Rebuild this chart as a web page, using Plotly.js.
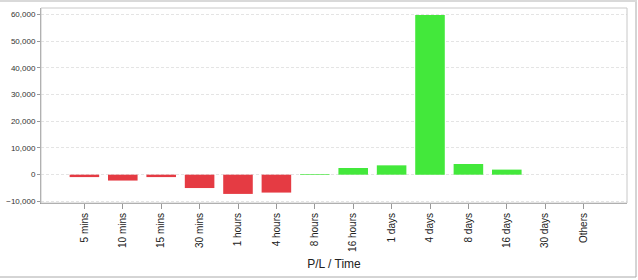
<!DOCTYPE html>
<html><head><meta charset="utf-8">
<script src="https://cdn.plot.ly/plotly-3.0.1.min.js"></script>
<style>html,body{margin:0;padding:0;background:#fff;}#c{width:638px;height:280px;}</style>
</head><body><div id="c"></div>
<script>
var categories = ["5 mins","10 mins","15 mins","30 mins","1 hours","4 hours","8 hours","16 hours","1 days","4 days","8 days","16 days","30 days","Others"];
var plValues = [-900,-2200,-900,-5000,-7200,-6700,250,2500,3500,59800,4000,1900,0,0];
var yTicks = [-10000,0,10000,20000,30000,40000,50000,60000];

var colors = plValues.map(function(v){ return v < 0 ? "#e53b43" : "#43e83b"; });

var trace = {
  type: "bar",
  x: categories,
  y: plValues,
  marker: {color: colors, line: {width: 0}},
  width: 0.77,
  hoverinfo: "none"
};

var layout = {
  width: 638, height: 280,
  margin: {l: 41, r: 11, t: 8, b: 77},
  paper_bgcolor: "#fff", plot_bgcolor: "#fff",
  showlegend: false,
  font: {family: "Liberation Sans, Arial, sans-serif", color: "#222"},
  xaxis: {
    type: "category",
    range: [-1.13, 14.13],
    tickangle: -90,
    tickfont: {size: 10, color: "#222"},
    ticks: "outside", ticklen: 5, tickcolor: "#999",
    showgrid: false, zeroline: false,
    showline: true, linecolor: "#999", linewidth: 1,
    title: {text: "P/L / Time", font: {size: 12, color: "#222"}, standoff: 8}
  },
  yaxis: {
    range: [-10600, 62400],
    tickvals: yTicks,
    tickformat: ",d",
    tickfont: {size: 8, color: "#333"},
    ticks: "outside", ticklen: 3, tickcolor: "#999",
    showgrid: true, gridcolor: "#e4e4e4", griddash: "3px,2px", gridwidth: 1,
    zeroline: false,
    showline: true, linecolor: "#999", linewidth: 1
  },
  shapes: [
    {type: "rect", xref: "paper", yref: "paper", x0: 0, x1: 1, y0: 0, y1: 1, line: {color: "#c8c8c8", width: 1}, layer: "above"},
    {type: "rect", xref: "paper", yref: "paper", x0: -41/586, x1: 1 + 10/586, y0: 1 + 6/195, y1: 1 + 8/195, fillcolor: "#d9d9d9", line: {width: 0}},
    {type: "line", xref: "paper", yref: "paper", x0: 1 + 9/586, x1: 1 + 9/586, y0: -74/195, y1: 1 + 6/195, line: {color: "#aaa", width: 1}},
    {type: "line", xref: "paper", yref: "paper", x0: -41/586, x1: 1 + 9/586, y0: -74/195, y1: -74/195, line: {color: "#aaa", width: 1}}
  ]
};

Plotly.newPlot("c", [trace], layout, {displayModeBar: false, staticPlot: true});
</script>
</body></html>
